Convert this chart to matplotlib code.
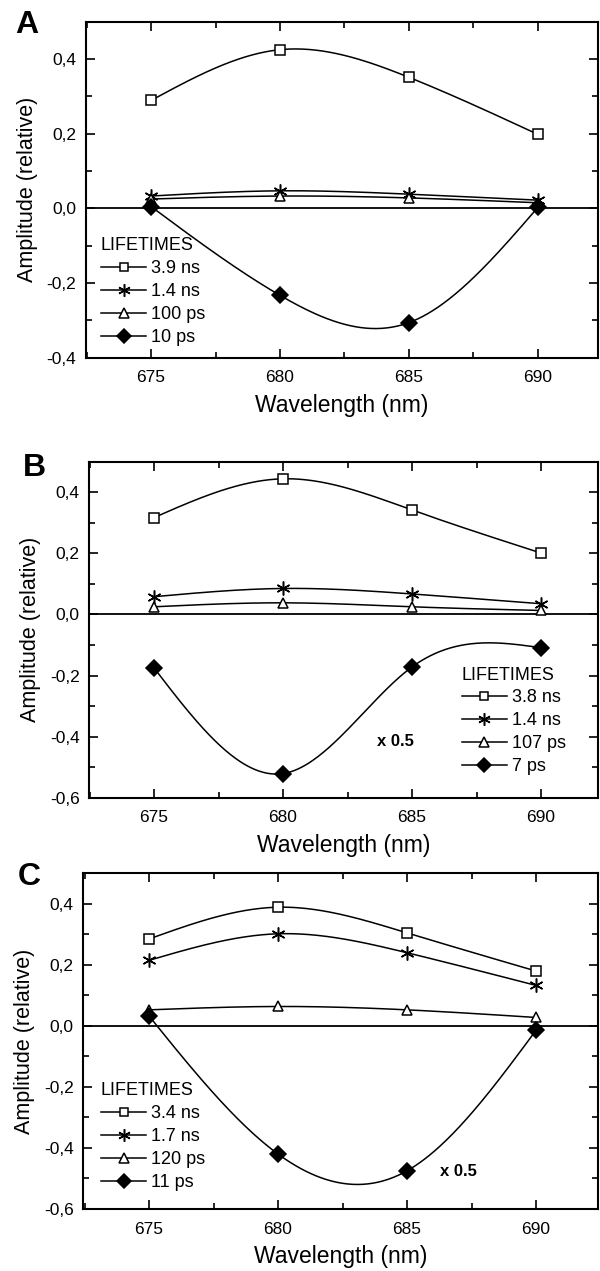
import numpy as np
import matplotlib
matplotlib.use("Agg")
import matplotlib.pyplot as plt
from matplotlib.ticker import MultipleLocator, FuncFormatter

plt.rcParams['font.family'] = ['Liberation Sans', 'DejaVu Sans']

wavelength = [675, 680, 685, 690]

# Panel A
labels_A = ["3.9 ns", "1.4 ns", "100 ps", "10 ps"]
A_39ns = [0.289, 0.425, 0.351, 0.198]
A_14ns = [0.033, 0.047, 0.038, 0.022]
A_100ps = [0.025, 0.033, 0.028, 0.015]
A_10ps = [0.005, -0.233, -0.306, 0.003]

# Panel B
labels_B = ["3.8 ns", "1.4 ns", "107 ps", "7 ps"]
B_38ns = [0.317, 0.444, 0.342, 0.201]
B_14ns = [0.058, 0.085, 0.067, 0.035]
B_107ps = [0.025, 0.038, 0.025, 0.013]
B_7ps = [-0.175, -0.521, -0.172, -0.109]

# Panel C
labels_C = ["3.4 ns", "1.7 ns", "120 ps", "11 ps"]
C_34ns = [0.284, 0.388, 0.304, 0.179]
C_17ns = [0.214, 0.301, 0.239, 0.132]
C_120ps = [0.052, 0.063, 0.052, 0.027]
C_11ps = [0.032, -0.420, -0.475, -0.015]

markers = ['s', (6, 2, 0), '^', 'D']
fills = ['white', 'black', 'white', 'black']
msizes = [7, 10, 7.5, 8]


def natural_spline(x, y, n=300):
    x = np.asarray(x, float)
    y = np.asarray(y, float)
    m = len(x)
    h = np.diff(x)
    A = np.zeros((m, m))
    b = np.zeros(m)
    A[0, 0] = 1
    A[-1, -1] = 1
    for i in range(1, m - 1):
        A[i, i - 1] = h[i - 1]
        A[i, i] = 2 * (h[i - 1] + h[i])
        A[i, i + 1] = h[i]
        b[i] = 6 * ((y[i + 1] - y[i]) / h[i] - (y[i] - y[i - 1]) / h[i - 1])
    M = np.linalg.solve(A, b)
    xs = np.linspace(x[0], x[-1], n)
    ys = np.empty_like(xs)
    for k, xv in enumerate(xs):
        i = min(np.searchsorted(x, xv, side='right') - 1, m - 2)
        t0 = x[i + 1] - xv
        t1 = xv - x[i]
        ys[k] = (M[i] * t0 ** 3 / (6 * h[i]) + M[i + 1] * t1 ** 3 / (6 * h[i])
                 + (y[i] / h[i] - M[i] * h[i] / 6) * t0
                 + (y[i + 1] / h[i] - M[i + 1] * h[i] / 6) * t1)
    return xs, ys


W, H = 600, 1271
fig = plt.figure(figsize=(W / 100, H / 100), dpi=100)


def fmt(v, pos):
    s = f"{v:.1f}".replace('.', ',')
    if s == "-0,0":
        s = "0,0"
    return s


def make_panel(px_left, px_top, px_bottom, tick675, ymin, ymax, series, labels,
               letter, letter_xy, legend_xy, note_xy=None):
    px_right = 598
    ax = fig.add_axes([px_left / W, 1 - px_bottom / H,
                       (px_right - px_left) / W, (px_bottom - px_top) / H])
    scale = 25.8  # px per nm
    ax.set_xlim(675 - (tick675 - px_left) / scale, 675 + (px_right - tick675) / scale)
    ax.set_ylim(ymin, ymax)
    ax.axhline(0, color='black', lw=1.3, zorder=1)
    handles = []
    for vals, mk, fc, ms, lab in zip(series, markers, fills, msizes, labels):
        xs, ys = natural_spline(wavelength, vals)
        ax.plot(xs, ys, color='black', lw=1.1, zorder=2)
        ax.plot(wavelength, vals, ls='none', marker=mk, markersize=ms,
                markerfacecolor=fc, markeredgecolor='black', markeredgewidth=1.1,
                zorder=3)
        h, = ax.plot([], [], color='black', lw=1.1, marker=mk, markersize=ms * 0.9,
                     markerfacecolor=fc, markeredgecolor='black',
                     markeredgewidth=1.1, label=lab)
        handles.append(h)
    ax.xaxis.set_major_locator(MultipleLocator(5))
    ax.xaxis.set_minor_locator(MultipleLocator(2.5))
    ax.yaxis.set_major_locator(MultipleLocator(0.2))
    ax.yaxis.set_minor_locator(MultipleLocator(0.1))
    ax.yaxis.set_major_formatter(FuncFormatter(fmt))
    ax.tick_params(which='both', direction='in', top=True, right=True,
                   width=1.2, labelsize=12.5)
    ax.tick_params(which='major', length=6.5)
    ax.tick_params(which='minor', length=4)
    ax.tick_params(axis='x', which='major', pad=9)
    ax.tick_params(axis='y', which='major', pad=7)
    for s in ax.spines.values():
        s.set_linewidth(1.5)
    ax.set_xlabel("Wavelength (nm)", fontsize=16.5, labelpad=6)
    ax.set_ylabel("Amplitude (relative)", fontsize=15.5, labelpad=6)
    ax.legend(handles=handles, title="LIFETIMES", frameon=False,
              loc='upper left',
              bbox_to_anchor=(legend_xy[0] / W, 1 - legend_xy[1] / H),
              bbox_transform=fig.transFigure, fontsize=13,
              title_fontsize=13, handlelength=2.5, handletextpad=0.28,
              labelspacing=0.33, borderpad=0, borderaxespad=0,
              alignment='left', numpoints=1)
    fig.text(letter_xy[0] / W, 1 - letter_xy[1] / H, letter, fontsize=23,
             fontweight='bold', va='top', ha='left')
    if note_xy is not None:
        fig.text(note_xy[0] / W, 1 - note_xy[1] / H, "x 0.5", fontsize=12,
                 fontweight='bold', va='center', ha='left')
    return ax


make_panel(86, 21.7, 357.7, 151, -0.4, 0.5,
           [A_39ns, A_14ns, A_100ps, A_10ps], labels_A, "A", (15, 10), (101, 237))
make_panel(89.3, 461.7, 797.7, 154, -0.6, 0.5,
           [B_38ns, B_14ns, B_107ps, B_7ps], labels_B, "B", (23, 453), (461.5, 666.5),
           (377, 742))
make_panel(83.3, 873, 1209, 149, -0.6, 0.5,
           [C_34ns, C_17ns, C_120ps, C_11ps], labels_C, "C", (18, 862), (101, 1082),
           (440, 1172))

fig.savefig("out.png", dpi=100)
